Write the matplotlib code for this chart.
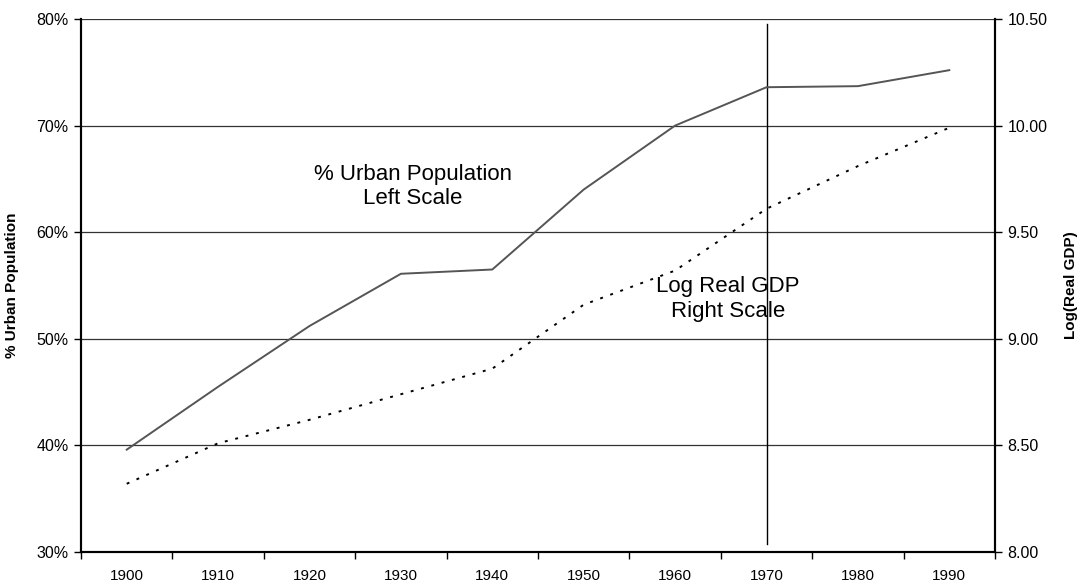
import numpy as np
import matplotlib.pyplot as plt
from matplotlib.ticker import FuncFormatter

plt.rcParams['font.family'] = ['Liberation Sans', 'DejaVu Sans']

years = [1900, 1910, 1920, 1930, 1940, 1950, 1960, 1970, 1980, 1990]
urban_pct = [39.6, 45.5, 51.2, 56.1, 56.5, 64.0, 70.0, 73.6, 73.7, 75.2]
log_gdp = [8.32, 8.51, 8.62, 8.74, 8.86, 9.16, 9.32, 9.61, 9.81, 9.99]

fig = plt.figure(figsize=(10.78, 5.86), dpi=100)
ax = fig.add_axes([81 / 1078, 1 - 552 / 586, (995 - 81) / 1078, (552 - 19) / 586])
ax2 = ax.twinx()

x = np.arange(len(years))
ax.set_xlim(-0.5, len(years) - 0.5)
ax.set_ylim(30, 80)
ax2.set_ylim(8.0, 10.5)

# grid lines
for g in [40, 50, 60, 70, 80]:
    ax.axhline(g, color='#333333', lw=0.9, zorder=1)

ax.plot(x, urban_pct, color='#555555', lw=1.4, zorder=3)
ax2.plot(x, log_gdp, color='black', lw=1.4, linestyle=(0, (1.5, 4)), zorder=3)

# vertical marker at 1970
ax.axvline(years.index(1970), ymin=0.015, ymax=0.99, color='black', lw=1.0, zorder=2)

ax.set_xticks(x)
ax.set_xticklabels([str(y) for y in years], fontsize=11)
ax.set_xticks(np.arange(-0.5, len(years)), minor=True)
ax.tick_params(axis='x', which='major', length=0, pad=12)
ax.tick_params(axis='x', which='minor', length=5, width=1, direction='out')

ax.set_yticks([30, 40, 50, 60, 70, 80])
ax.yaxis.set_major_formatter(FuncFormatter(lambda v, p: f'{v:.0f}%'))
ax.tick_params(axis='y', length=5, width=1, direction='out', labelsize=11.5, pad=4)

ax2.set_yticks([8.0, 8.5, 9.0, 9.5, 10.0, 10.5])
ax2.yaxis.set_major_formatter(FuncFormatter(lambda v, p: f'{v:.2f}'))
ax2.tick_params(axis='y', length=5, width=1, direction='out', labelsize=11.5, pad=4)

for a in (ax, ax2):
    a.spines['top'].set_visible(False)
    a.spines['left'].set_linewidth(1.5)
    a.spines['right'].set_linewidth(1.5)
    a.spines['bottom'].set_linewidth(1.5)

ax.set_ylabel('% Urban Population', fontsize=11, fontweight='bold')
ax2.set_ylabel('Log(Real GDP)', fontsize=11, fontweight='bold')
ax.yaxis.set_label_coords(-62 / 914, 0.5)
ax2.yaxis.set_label_coords(1 + 69 / 914, 0.5)

ax.text(3.13, 64.3, '% Urban Population\nLeft Scale', ha='center', va='center',
        fontsize=16, linespacing=1.2, zorder=4)
ax2.text(6.58, 9.187, 'Log Real GDP\nRight Scale', ha='center', va='center',
         fontsize=16, linespacing=1.2, zorder=4)

fig.savefig('out.png', dpi=100)
